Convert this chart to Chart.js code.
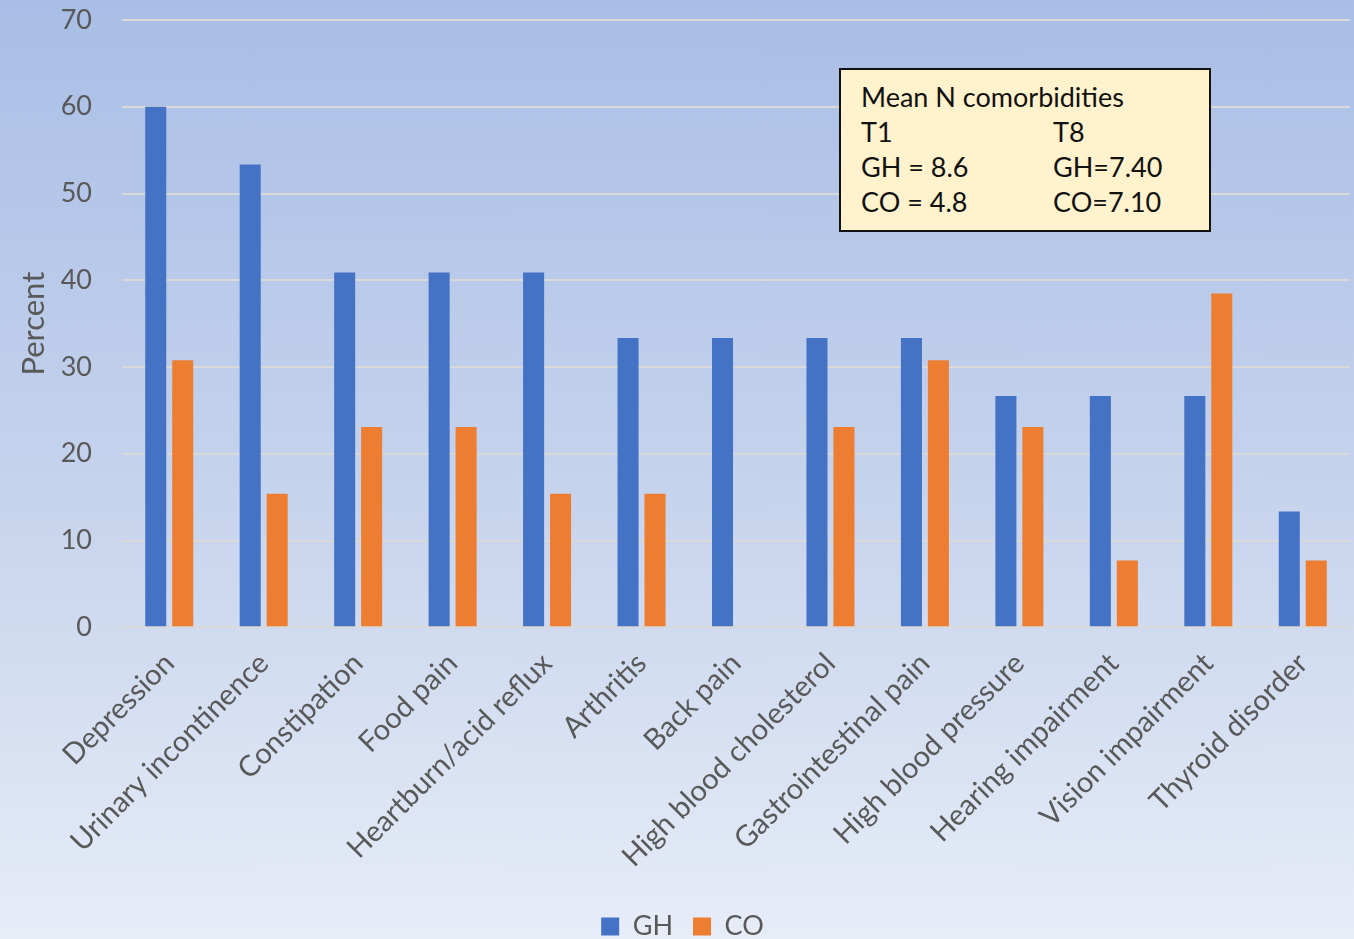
<!DOCTYPE html>
<html><head><meta charset="utf-8">
<script src="https://cdn.jsdelivr.net/npm/chart.js@4"></script>
<style>
html,body{margin:0;padding:0;}
#wrap{position:relative;width:1354px;height:939px;background:linear-gradient(to bottom,#a9bee6 0%,#c4d2ec 50%,#e7ecf7 100%);}
canvas{position:absolute;left:0;top:0;}
#note{position:absolute;left:839px;top:68px;width:368px;height:160px;background:#fff2cc;border:2px solid #111;font-family:Lato,sans-serif;font-size:27px;color:#111;box-sizing:content-box;}
#note div{position:absolute;white-space:nowrap;}
</style></head>
<body>
<div id="wrap"><canvas id="c" width="1354" height="939"></canvas>
<div id="note">
<div style="left:20px;top:10px">Mean N comorbidities</div>
<div style="left:20px;top:45px">T1</div><div style="left:212px;top:45px">T8</div>
<div style="left:20px;top:80px">GH = 8.6</div><div style="left:212px;top:80px">GH=7.40</div>
<div style="left:20px;top:115px">CO = 4.8</div><div style="left:212px;top:115px">CO=7.10</div>
</div>
</div>
<script>
const categories = ["Depression","Urinary incontinence","Constipation","Food pain","Heartburn/acid reflux","Arthritis","Back pain","High blood cholesterol","Gastrointestinal pain","High blood pressure","Hearing impairment","Vision impairment","Thyroid disorder"];
const ghValues = [60, 53.33, 40.9, 40.9, 40.9, 33.33, 33.33, 33.33, 33.33, 26.67, 26.67, 26.67, 13.33];
const coValues = [30.77, 15.38, 23.08, 23.08, 15.38, 15.38, 0, 23.08, 30.77, 23.08, 7.69, 38.46, 7.69];
const yTicks = [0,10,20,30,40,50,60,70];

const font = 'Lato, sans-serif';
new Chart(document.getElementById('c'), {
  type: 'bar',
  data: {
    labels: categories,
    datasets: [
      {label:'GH', data: ghValues, backgroundColor:'#4472c4', categoryPercentage:0.571, barPercentage:0.78},
      {label:'CO', data: coValues, backgroundColor:'#ed7d31', categoryPercentage:0.571, barPercentage:0.78}
    ]
  },
  options: {
    responsive:false, animation:false,
    layout:{padding:{left:15,right:4,top:20,bottom:-11}},
    plugins:{
      legend:{position:'bottom', labels:{font:{family:font,size:27}, color:'#595959', boxWidth:18, boxHeight:18, padding:20}},
      tooltip:{enabled:false}
    },
    scales:{
      x:{grid:{display:false}, border:{display:false},
         afterFit:(s)=>{s.paddingLeft=0; s.paddingRight=0; s.height+=8;},
         ticks:{font:{family:font,size:29}, color:'#595959', maxRotation:45, minRotation:45, autoSkip:false, padding:11}},
      y:{min:0,max:70, afterBuildTicks:(s)=>{s.ticks=yTicks.map(v=>({value:v}));},
         afterFit:(s)=>{s.paddingTop=0; s.paddingBottom=0; s.width=107;},
         grid:{color:'#d9d9d9', lineWidth:2, drawTicks:false}, border:{display:false},
         ticks:{font:{family:font,size:27}, color:'#595959', padding:30},
         title:{display:true,text:'Percent', font:{family:font,size:31}, color:'#595959', padding:{top:0,bottom:10}}}
    }
  }
});
</script>
</body></html>
